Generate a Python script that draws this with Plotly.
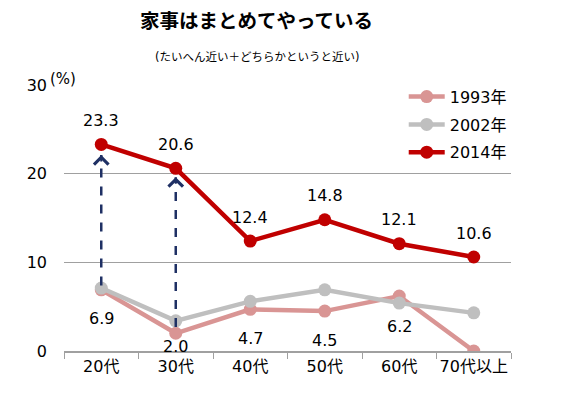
import plotly.graph_objects as go

categories = ["20代", "30代", "40代", "50代", "60代", "70代以上"]
y1993 = [6.9, 2.0, 4.7, 4.5, 6.2, 0.0]
y2002 = [7.1, 3.4, 5.6, 6.9, 5.4, 4.3]
y2014 = [23.3, 20.6, 12.4, 14.8, 12.1, 10.6]
labels1993 = ["6.9", "2.0", "4.7", "4.5", "6.2", ""]
labels2014 = ["23.3", "20.6", "12.4", "14.8", "12.1", "10.6"]
yticks = [0, 10, 20, 30]
# arrows: (category, from, to)
arrow_cats = ["20代", "30代"]
arrow_from = [7.4, 2.7]
arrow_to = [22.1, 19.6]

# style
shift1993 = [-29, -13, -29, -29, -30, 0]
shift2014 = 24
FONT = "DejaVu Sans, Noto Sans CJK JP, sans-serif"
C93, C02, C14 = "#D99594", "#BFBFBF", "#C00000"
NAVY = "#1F3064"
# page body has an 8px margin; figure sized to fit the 561x395 window
OFF = 8
W, H = 561 - OFF, 395 - OFF
ML, MT = 64 - OFF, 85 - OFF
MB = 395 - 351
MR = 561 - 511
PH = H - MT - MB
PW = W - ML - MR


def py(page_y):
    return (H - MB - (page_y - OFF)) / PH


def px(page_x):
    return (page_x - OFF - ML) / PW


fig = go.Figure()
for name, ys, col in [("1993年", y1993, C93), ("2002年", y2002, C02), ("2014年", y2014, C14)]:
    fig.add_trace(go.Scatter(
        x=categories, y=ys, name=name, mode="lines+markers",
        line=dict(color=col, width=4.5), marker=dict(color=col, size=13),
        legendgroup=name,
    ))

annotations = []
for c, f, t in zip(arrow_cats, arrow_from, arrow_to):
    fig.add_trace(go.Scatter(
        x=[c, c], y=[f, t], mode="lines", showlegend=False, hoverinfo="skip",
        line=dict(color=NAVY, width=2.5, dash="dash"),
    ))
    annotations.append(dict(
        x=c, y=t, xref="x", yref="y", ax=0, ay=8, showarrow=True,
        arrowhead=4, arrowsize=1.4, arrowwidth=2, arrowcolor=NAVY, standoff=0, text="",
    ))

for c, v, lab, s in zip(categories, y1993, labels1993, shift1993):
    if lab:
        annotations.append(dict(x=c, y=v, xref="x", yref="y", text=lab, showarrow=False,
                                yshift=s, font=dict(size=16, color="#000", family=FONT)))
for c, v, lab in zip(categories, y2014, labels2014):
    annotations.append(dict(x=c, y=v, xref="x", yref="y", text=lab, showarrow=False,
                            yshift=shift2014, font=dict(size=16, color="#000", family=FONT)))

annotations.append(dict(x=px(256), y=py(22), xref="paper", yref="paper", yanchor="middle",
                        text="<b>家事はまとめてやっている</b>", showarrow=False,
                        font=dict(size=19.5, color="#000", family=FONT)))
annotations.append(dict(x=px(257), y=py(57), xref="paper", yref="paper", yanchor="middle",
                        text="(たいへん近い＋どちらかというと近い)", showarrow=False,
                        font=dict(size=11.5, color="#000", family=FONT)))
annotations.append(dict(text="(%)", x=px(48), y=py(79), xref="paper", yref="paper",
                        xanchor="left", yanchor="middle", showarrow=False,
                        font=dict(size=15, color="#000", family=FONT)))

fig.update_layout(
    width=W, height=H,
    margin=dict(l=ML, r=MR, t=MT, b=MB, autoexpand=False),
    paper_bgcolor="white", plot_bgcolor="white",
    font=dict(family=FONT, size=16, color="#000"),
    showlegend=True,
    legend=dict(x=0.76, y=1.02, xanchor="left", yanchor="top", bgcolor="rgba(0,0,0,0)",
                font=dict(size=16, family=FONT), tracegroupgap=4, itemwidth=36),
    annotations=annotations,
    xaxis=dict(range=[-0.5, 5.5], showline=True, linecolor="#A0A0A0", linewidth=1.5,
               ticks="outside", tickson="boundaries", ticklen=6, tickcolor="#A0A0A0",
               showgrid=False, tickfont=dict(size=16), tickangle=0, automargin=False,
               fixedrange=True),
    yaxis=dict(range=[0, 30], tickvals=yticks, showgrid=True, gridcolor="#A0A0A0",
               gridwidth=1, zeroline=False, showline=False, ticks="", automargin=False,
               ticklabelstandoff=16, tickfont=dict(size=16), fixedrange=True),
)

fig.write_html("out.html")
